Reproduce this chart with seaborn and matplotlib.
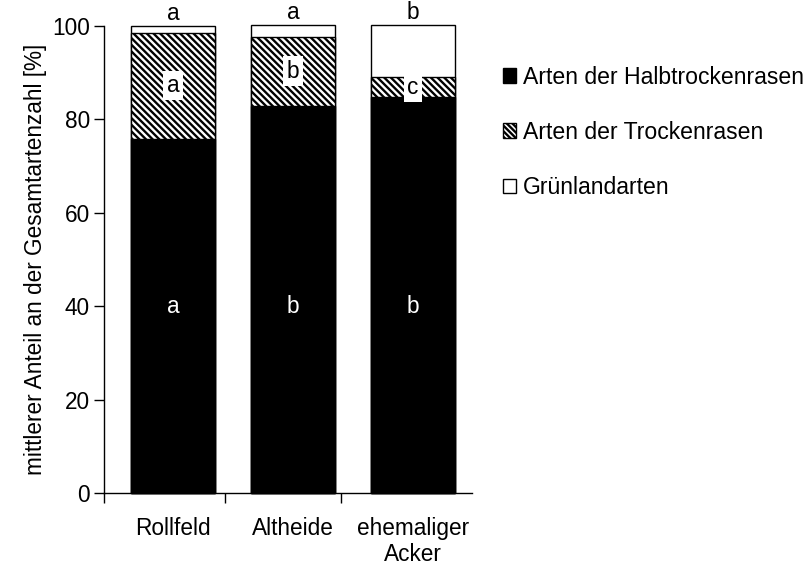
import matplotlib
matplotlib.use("Agg")
import matplotlib.pyplot as plt
import seaborn as sns
import pandas as pd
from matplotlib.patches import Patch

categories = ["Rollfeld", "Altheide", "ehemaliger\nAcker"]
halbtrocken = [75.9, 82.9, 84.9]
trocken = [22.7, 14.8, 4.2]
gruenland = [1.4, 2.5, 11.2]
letters_bottom = ["a", "b", "b"]
letters_mid = ["a", "b", "c"]
letters_top = ["a", "a", "b"]
series_names = ["Arten der Halbtrockenrasen", "Arten der Trockenrasen", "Grünlandarten"]

sns.set_theme(style="white")
plt.rcParams["font.family"] = ["Liberation Sans", "DejaVu Sans"]
plt.rcParams["hatch.linewidth"] = 1.7
plt.rcParams["hatch.color"] = "black"
for k in ["text.color", "axes.labelcolor", "xtick.color", "ytick.color"]:
    plt.rcParams[k] = "black"

df = pd.DataFrame({
    "cat": categories,
    "h": halbtrocken,
    "ht": [a + b for a, b in zip(halbtrocken, trocken)],
    "tot": [a + b + c for a, b, c in zip(halbtrocken, trocken, gruenland)],
})

fig = plt.figure(figsize=(8.12, 5.65), dpi=100)
ax = fig.add_axes([104 / 812, 1 - 493 / 565, (472 - 104) / 812, (493 - 26) / 565])

fs = 16.3
hatch = "\\" * 5
sns.barplot(data=df, x="cat", y="tot", color="white", edgecolor="black",
            linewidth=1.0, width=0.7, saturation=1, ax=ax)
sns.barplot(data=df, x="cat", y="ht", color="white", edgecolor="black",
            linewidth=1.0, width=0.7, saturation=1, hatch=hatch, ax=ax)
sns.barplot(data=df, x="cat", y="h", color="black", edgecolor="black",
            linewidth=1.0, width=0.7, saturation=1, ax=ax)
for p in ax.patches:
    p.set_clip_on(False)

ax.set_xlim(-0.575, 2.49)
ax.set_ylim(0, 100)
ax.set_yticks([0, 20, 40, 60, 80, 100])
ax.tick_params(axis="y", direction="out", length=7, width=1, left=True, labelsize=fs, pad=3)
ax.set_xticks(range(len(categories)))
ax.set_xticklabels(categories, fontsize=fs)
ax.tick_params(axis="x", length=0, pad=17)
ax.set_xticks([-0.575, 0.43, 1.4], minor=True)
ax.tick_params(axis="x", which="minor", direction="out", length=7, width=1, bottom=True)
ax.set_xlabel("")
ax.set_ylabel("mittlerer Anteil an der Gesamtartenzahl [%]", fontsize=fs, labelpad=4)
for s in ["top", "right"]:
    ax.spines[s].set_visible(False)
for s in ["left", "bottom"]:
    ax.spines[s].set_color("black")
    ax.spines[s].set_linewidth(1.0)

for i in range(len(categories)):
    ax.text(i, 40, letters_bottom[i], color="white", ha="center", va="center", fontsize=fs)
    mid = halbtrocken[i] + trocken[i] / 2 if trocken[i] > 8 else 86.9
    ax.text(i, mid, letters_mid[i], color="black", ha="center", va="center",
            fontsize=fs, bbox=dict(facecolor="white", edgecolor="none", pad=2.5))
    ax.text(i, df["tot"][i] + 0.2, letters_top[i], color="black", ha="center", va="bottom",
            fontsize=fs, clip_on=False)

handles = [
    Patch(facecolor="black", edgecolor="black", label=series_names[0]),
    Patch(facecolor="white", edgecolor="black", hatch="\\" * 6, label=series_names[1]),
    Patch(facecolor="white", edgecolor="black", label=series_names[2]),
]
fig.legend(handles=handles, loc="upper left", bbox_to_anchor=(491 / 812, 1 - 54 / 565),
           frameon=False, fontsize=16.6, handlelength=0.6, handleheight=0.6,
           handletextpad=0.3, labelspacing=1.4, borderpad=0)

fig.savefig("out.png", dpi=100)
